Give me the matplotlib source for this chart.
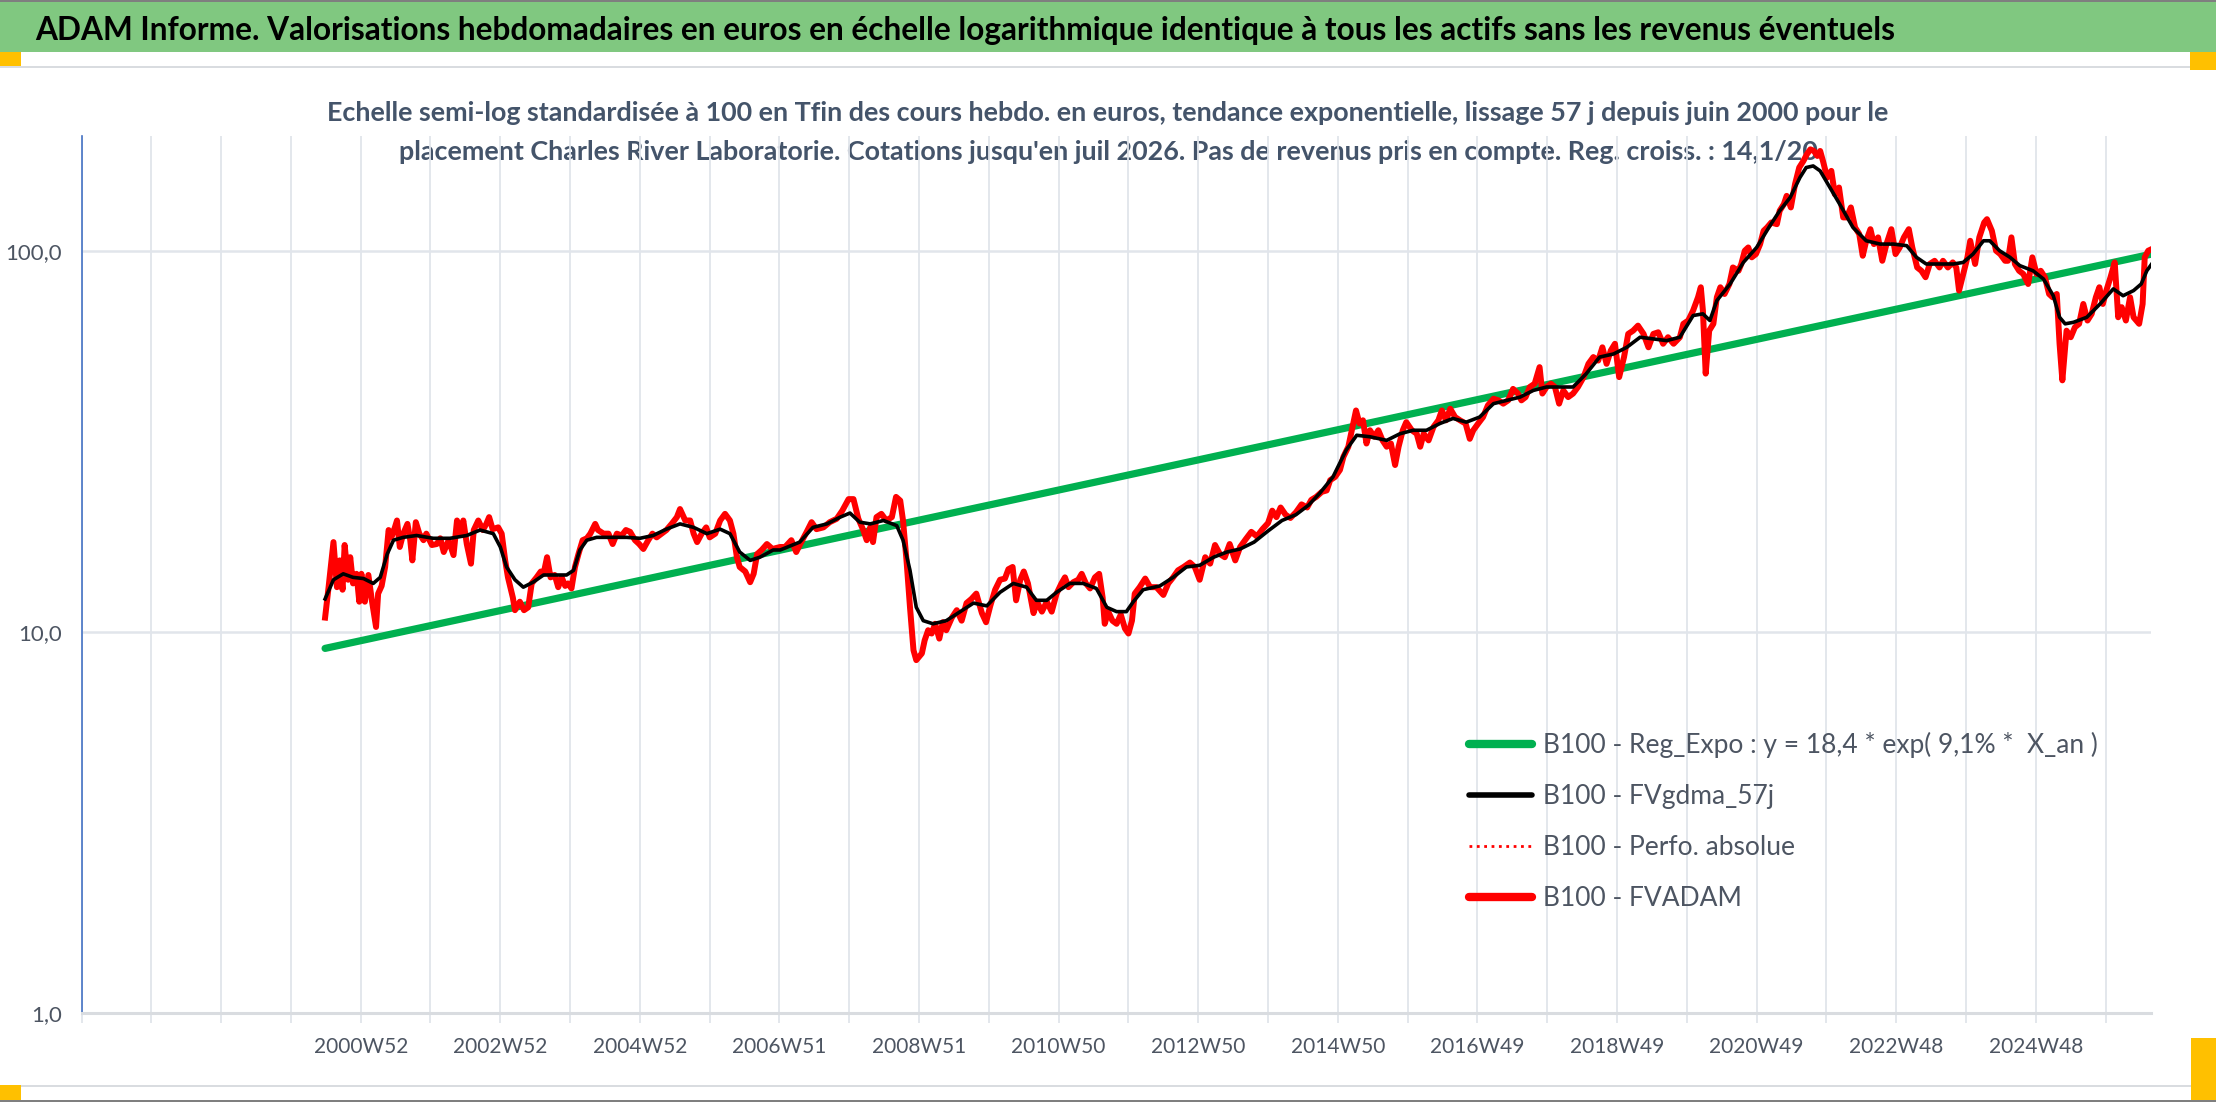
import matplotlib.pyplot as plt
from matplotlib.patches import Rectangle
from matplotlib.lines import Line2D

# --- données ---
# axe x en années décimales, les étiquettes du graphique sont des semaines ISO
tick_years = [2001, 2003, 2005, 2007, 2009, 2011, 2013, 2015, 2017, 2019, 2021, 2023, 2025]
tick_labels = ["2000W52", "2002W52", "2004W52", "2006W51", "2008W51", "2010W50", "2012W50",
               "2014W50", "2016W49", "2018W49", "2020W49", "2022W48", "2024W48"]

reg_years = [2000.49, 2026.66]
reg_values = [9.05, 98.0]

fvadam_years = [
    2000.49, 2000.54, 2000.61, 2000.66, 2000.70, 2000.74, 2000.77, 2000.82, 2000.85, 2000.89,
    2000.94, 2000.98, 2001.01, 2001.06, 2001.11, 2001.16, 2001.22, 2001.25, 2001.30, 2001.35,
    2001.40, 2001.44, 2001.49, 2001.52, 2001.56, 2001.61, 2001.67, 2001.71, 2001.74, 2001.79,
    2001.84, 2001.90, 2001.94, 2002.02, 2002.09, 2002.14, 2002.19, 2002.26, 2002.33, 2002.38,
    2002.43, 2002.47, 2002.52, 2002.58, 2002.62, 2002.685, 2002.75, 2002.80, 2002.84, 2002.89,
    2002.97, 2003.02, 2003.07, 2003.11, 2003.18, 2003.21, 2003.28, 2003.34, 2003.40, 2003.45,
    2003.52, 2003.58, 2003.62, 2003.67, 2003.72, 2003.78, 2003.83, 2003.88, 2003.93, 2003.97,
    2004.02, 2004.07, 2004.12, 2004.18, 2004.24, 2004.29, 2004.36, 2004.40, 2004.48, 2004.55,
    2004.61, 2004.67, 2004.74, 2004.80, 2004.86, 2004.93, 2004.99, 2005.05, 2005.12, 2005.18,
    2005.24, 2005.31, 2005.38, 2005.455, 2005.53, 2005.575, 2005.65, 2005.72, 2005.77, 2005.82,
    2005.885, 2005.95, 2006.00, 2006.08, 2006.15, 2006.22, 2006.29, 2006.34, 2006.39, 2006.43,
    2006.51, 2006.58, 2006.63, 2006.68, 2006.745, 2006.82, 2006.90, 2007.01,
    2007.08, 2007.17, 2007.24, 2007.29, 2007.39, 2007.46, 2007.53, 2007.63, 2007.72, 2007.82,
    2007.90, 2007.99, 2008.06, 2008.13, 2008.20, 2008.25, 2008.30, 2008.34, 2008.39, 2008.46,
    2008.53, 2008.61, 2008.67, 2008.73, 2008.77, 2008.82, 2008.87, 2008.92, 2008.96, 2009.04,
    2009.08, 2009.13, 2009.18, 2009.23, 2009.29, 2009.34, 2009.39, 2009.47, 2009.54, 2009.61,
    2009.68, 2009.75, 2009.82, 2009.90, 2009.96, 2010.02, 2010.09, 2010.16, 2010.23, 2010.28,
    2010.34, 2010.39, 2010.45, 2010.50, 2010.56, 2010.64, 2010.69, 2010.76, 2010.83, 2010.90,
    2010.97, 2011.04, 2011.09, 2011.14, 2011.21, 2011.28, 2011.33, 2011.39, 2011.45, 2011.52,
    2011.58, 2011.63, 2011.66, 2011.71, 2011.77, 2011.83, 2011.89, 2011.95, 2012.00, 2012.05,
    2012.09, 2012.16, 2012.24, 2012.31, 2012.40, 2012.50, 2012.57, 2012.64, 2012.71, 2012.79,
    2012.88, 2012.95, 2013.02, 2013.10, 2013.17, 2013.24, 2013.31, 2013.38, 2013.45, 2013.53,
    2013.60, 2013.68, 2013.76, 2013.84, 2013.92, 2014.00, 2014.06, 2014.12, 2014.18, 2014.25,
    2014.32, 2014.40, 2014.48, 2014.56, 2014.62,
    2014.69, 2014.77, 2014.84, 2014.89, 2014.96, 2015.03, 2015.08, 2015.15, 2015.21, 2015.26,
    2015.31, 2015.36, 2015.41, 2015.46, 2015.52, 2015.58, 2015.64, 2015.70, 2015.76, 2015.82,
    2015.87, 2015.93, 2015.98, 2016.06, 2016.13, 2016.18, 2016.23, 2016.30, 2016.37, 2016.44,
    2016.49, 2016.55, 2016.61, 2016.68, 2016.75, 2016.83, 2016.89, 2016.94, 2017.01, 2017.08,
    2017.15, 2017.23, 2017.30, 2017.37, 2017.44, 2017.51, 2017.58, 2017.63, 2017.69, 2017.75,
    2017.82, 2017.89, 2017.93, 2017.99, 2018.05, 2018.11, 2018.17, 2018.23, 2018.30, 2018.37,
    2018.44, 2018.52, 2018.59, 2018.66, 2018.73, 2018.79, 2018.85, 2018.91, 2018.97, 2019.03,
    2019.10, 2019.16, 2019.23, 2019.30, 2019.38, 2019.45, 2019.52, 2019.59, 2019.66, 2019.73,
    2019.81,
    2019.90, 2019.95, 2020.02, 2020.09, 2020.16, 2020.20, 2020.23, 2020.27, 2020.32, 2020.38,
    2020.43, 2020.48, 2020.54, 2020.61, 2020.66, 2020.74, 2020.78, 2020.83, 2020.88, 2020.93,
    2020.99, 2021.05, 2021.10, 2021.15, 2021.21, 2021.29, 2021.33, 2021.39, 2021.43, 2021.49,
    2021.55, 2021.61, 2021.67, 2021.72, 2021.77, 2021.82, 2021.87, 2021.91, 2021.95, 2022.01,
    2022.07, 2022.12, 2022.18, 2022.24, 2022.29, 2022.35, 2022.41, 2022.47, 2022.52, 2022.57,
    2022.63, 2022.68, 2022.74, 2022.80, 2022.86, 2022.93, 2022.99, 2023.05, 2023.11, 2023.18,
    2023.23, 2023.30, 2023.36, 2023.42, 2023.48, 2023.55, 2023.62, 2023.67, 2023.74, 2023.81,
    2023.86, 2023.90, 2023.96, 2024.02, 2024.06, 2024.13, 2024.19, 2024.26, 2024.30, 2024.37,
    2024.43, 2024.49, 2024.56, 2024.60, 2024.65, 2024.70, 2024.76, 2024.82, 2024.89, 2024.95,
    2025.01, 2025.07, 2025.13, 2025.19, 2025.24, 2025.30, 2025.34, 2025.38, 2025.44, 2025.50,
    2025.56, 2025.62, 2025.68, 2025.74, 2025.80, 2025.86, 2025.91, 2025.96, 2026.01, 2026.07,
    2026.13, 2026.18, 2026.23, 2026.29, 2026.35, 2026.40, 2026.48, 2026.53, 2026.56, 2026.61,
    2026.66,
]
fvadam_values = [
    10.9, 13.1, 17.2, 13.1, 15.4, 12.9, 16.9, 13.7, 15.7, 13.4,
    14.2, 12.0, 14.2, 12.0, 14.1, 12.1, 10.3, 12.6, 13.2, 14.8,
    18.5, 17.7, 18.8, 19.6, 16.7, 18.1, 19.2, 17.4, 15.4, 19.4,
    18.1, 17.4, 18.1, 16.9, 17.0, 17.6, 16.2, 17.4, 15.9, 19.6,
    18.1, 19.6, 17.0, 15.1, 18.5, 19.6, 18.5, 19.2, 20.0, 18.6,
    18.8, 18.1, 15.4, 13.9, 12.3, 11.4, 12.0, 11.4, 11.6, 13.4,
    13.9, 14.4, 14.2, 15.7, 13.9, 14.1, 13.1, 13.9, 13.2, 13.4,
    13.0, 14.8, 16.0, 17.4, 17.6, 18.1, 19.2, 18.5, 18.1, 18.1,
    17.0, 18.1, 17.9, 18.5, 18.3, 17.4, 17.0, 16.5, 17.4, 18.1,
    17.7, 18.1, 18.5, 19.2, 20.0, 21.0, 19.6, 19.6, 18.1, 17.2,
    18.1, 18.8, 17.7, 18.1, 19.6, 20.4, 19.6, 18.1, 15.7, 14.8,
    14.4, 13.5, 14.2, 16.0, 16.4, 17.0, 16.5, 16.7,
    16.7, 17.4, 16.2, 16.9, 18.3, 19.4, 18.6, 18.8, 19.4, 19.8,
    20.8, 22.3, 22.3, 19.8, 18.5, 17.4, 18.8, 17.2, 20.0, 20.4,
    19.6, 20.0, 22.6, 22.1, 19.6, 15.4, 11.6, 8.95, 8.43, 8.78,
    9.5, 10.1, 9.9, 10.5, 9.6, 10.6, 10.1, 10.9, 11.4, 10.7,
    11.9, 12.2, 12.6, 11.2, 10.6, 11.7, 12.9, 13.7, 13.8, 14.6,
    14.8, 12.1, 13.7, 14.4, 13.4, 11.2, 12.0, 11.3, 12.0, 11.3,
    12.6, 13.4, 13.9, 13.1, 13.5, 13.7, 14.2, 13.4, 13.0, 13.9,
    14.2, 12.3, 10.5, 11.3, 10.7, 10.5, 11.1, 10.2, 9.9, 10.7,
    12.6, 13.1, 13.8, 13.1, 13.1, 12.5, 13.4, 13.9, 14.5, 14.8,
    15.2, 14.8, 13.7, 15.7, 15.1, 16.9, 16.0, 15.7, 17.0, 15.4,
    16.7, 17.5, 18.3, 17.8, 18.6, 19.3, 20.8, 20.0, 21.2, 20.3,
    19.9, 20.6, 21.6, 21.2, 22.2,
    22.6, 23.3, 23.5, 25.0, 25.5, 26.6, 28.8, 30.6, 34.5, 38.1,
    35.2, 35.9, 31.2, 33.8, 32.5, 33.8, 31.8, 30.6, 31.2, 27.4,
    30.6, 33.8, 35.5, 33.8, 33.1, 30.6, 33.1, 31.8, 34.5, 35.9,
    38.1, 35.9, 38.5, 36.6, 35.9, 35.2, 32.1, 33.8, 35.2, 36.6,
    39.3, 40.9, 40.5, 39.7, 40.5, 43.4, 42.2, 40.5, 41.3, 43.9,
    44.8, 49.5, 42.2, 43.9, 44.8, 43.9, 39.7, 43.0, 41.3, 42.2,
    43.9, 46.6, 50.5, 52.6, 51.5, 55.8, 50.5, 54.7, 57.0, 46.6,
    52.6, 60.5, 61.7, 63.6, 60.5, 55.8, 60.5, 61.1, 57.0, 59.3,
    57.0,
    59.3, 64.3, 65.6, 69.7, 75.5, 80.2, 69.7, 47.6, 61.7, 64.3,
    75.5, 80.2, 77.0, 81.8, 90.4, 88.6, 92.3, 100.0, 102.0, 96.1,
    98.0, 104.1, 112.8, 115.1, 118.6, 117.4, 127.3, 132.5, 139.3, 129.9,
    149.5, 165.3, 172.0, 179.1, 184.5, 182.7, 177.3, 182.7, 172.0, 155.6,
    162.0, 140.7, 146.5, 122.3, 122.3, 129.9, 115.1, 110.6, 97.0, 106.2,
    113.9, 104.1, 108.4, 94.1, 104.1, 113.9, 98.0, 102.0, 108.4, 113.9,
    102.0, 90.4, 88.6, 85.2, 92.3, 94.1, 90.4, 94.1, 90.4, 93.2,
    90.4, 78.6, 86.9, 96.1, 106.2, 92.3, 108.4, 118.6, 121.0, 112.8,
    100.0, 98.0, 94.1, 94.1, 108.4, 92.3, 88.6, 86.9, 81.8, 96.1,
    86.9, 88.6, 85.2, 77.0, 75.5, 77.0, 57.0, 45.7, 61.7, 59.3,
    63.0, 64.3, 72.5, 65.6, 68.3, 75.5, 80.2, 72.5, 78.6, 85.2,
    93.2, 66.9, 71.1, 65.6, 75.5, 66.9, 64.3, 72.5, 96.1, 100.0,
    101.0,
]

fvgdma_years = [
    2000.49, 2000.61, 2000.75, 2000.89, 2001.04, 2001.18, 2001.28, 2001.38, 2001.47, 2001.61,
    2001.80, 2002.04, 2002.28, 2002.52, 2002.71, 2002.90, 2003.00, 2003.09, 2003.21, 2003.33,
    2003.47, 2003.62, 2003.76, 2003.95, 2004.05, 2004.14, 2004.24, 2004.38, 2004.57, 2004.81,
    2005.00, 2005.19, 2005.38, 2005.575, 2005.77, 2005.96, 2006.15, 2006.29, 2006.43, 2006.58,
    2006.72, 2006.91,
    2007.01, 2007.29, 2007.48, 2007.68, 2007.87, 2008.01, 2008.15, 2008.30, 2008.49, 2008.68,
    2008.77, 2008.87, 2008.96, 2009.06, 2009.20, 2009.39, 2009.59, 2009.78, 2009.97, 2010.16,
    2010.35, 2010.54, 2010.68, 2010.83, 2010.97, 2011.16, 2011.35, 2011.54, 2011.69, 2011.83,
    2011.97, 2012.07, 2012.21, 2012.45, 2012.64, 2012.83, 2013.02, 2013.22, 2013.41, 2013.60,
    2013.80, 2014.00, 2014.20, 2014.40, 2014.58,
    2014.74, 2014.93, 2015.12, 2015.27, 2015.46, 2015.70, 2015.89, 2016.08, 2016.27, 2016.46,
    2016.65, 2016.84, 2017.03, 2017.23, 2017.42, 2017.61, 2017.80, 2017.99, 2018.18, 2018.37,
    2018.56, 2018.75, 2018.95, 2019.14, 2019.33, 2019.52, 2019.71, 2019.90,
    2020.09, 2020.23, 2020.33, 2020.43, 2020.62, 2020.81, 2021.00, 2021.19, 2021.33, 2021.48,
    2021.62, 2021.71, 2021.81, 2021.91, 2022.05, 2022.19, 2022.38, 2022.57, 2022.77, 2022.96,
    2023.15, 2023.29, 2023.43, 2023.63, 2023.82, 2023.96, 2024.10, 2024.25, 2024.34, 2024.48,
    2024.63, 2024.77, 2024.96, 2025.11, 2025.25, 2025.34, 2025.42, 2025.54, 2025.73, 2025.92,
    2026.11, 2026.25, 2026.40, 2026.51, 2026.59, 2026.66,
]
fvgdma_values = [
    12.2, 13.7, 14.2, 13.9, 13.8, 13.4, 13.9, 16.0, 17.4, 17.7,
    17.9, 17.6, 17.6, 17.9, 18.5, 18.1, 16.7, 14.8, 13.7, 13.1,
    13.5, 14.1, 14.1, 14.1, 14.5, 16.4, 17.4, 17.7, 17.7, 17.7,
    17.6, 17.9, 18.6, 19.2, 18.8, 18.1, 18.6, 18.1, 16.2, 15.4,
    15.7, 16.4,
    16.4, 17.2, 18.8, 19.2, 20.0, 20.5, 19.4, 19.2, 19.6, 19.0,
    17.4, 14.5, 11.6, 10.7, 10.5, 10.7, 11.3, 11.9, 11.7, 12.7,
    13.4, 13.1, 12.1, 12.1, 12.7, 13.4, 13.4, 13.0, 11.6, 11.3,
    11.3, 12.0, 12.9, 13.2, 13.9, 14.8, 14.95, 15.7, 16.2, 16.5,
    17.2, 18.4, 19.6, 20.3, 21.5,
    23.1, 25.5, 30.0, 32.8, 32.5, 31.8, 33.1, 33.8, 33.8, 35.2,
    36.3, 35.5, 36.6, 39.7, 40.5, 41.3, 43.0, 43.9, 43.9, 43.9,
    47.6, 52.6, 53.6, 55.8, 59.3, 58.7, 58.1, 59.3,
    67.6, 68.3, 65.6, 74.0, 81.8, 93.2, 102.0, 116.3, 127.3, 137.9,
    155.6, 165.3, 166.9, 162.0, 146.5, 132.5, 115.1, 106.2, 104.1, 104.1,
    103.1, 96.1, 92.3, 92.3, 92.3, 93.2, 98.0, 106.2, 106.2, 100.0,
    96.1, 91.4, 88.6, 84.3, 76.2, 66.9, 64.3, 64.9, 66.9, 72.5,
    79.4, 76.2, 78.6, 81.8, 88.6, 92.3,
]

titre = ("ADAM Informe. Valorisations hebdomadaires en euros en échelle logarithmique "
         "identique à tous les actifs sans les revenus éventuels")
sous_titre_1 = ("Echelle semi-log standardisée à 100 en Tfin des cours hebdo. en euros, tendance "
                "exponentielle, lissage 57 j depuis juin 2000 pour le")
sous_titre_2 = ("placement Charles River Laboratorie. Cotations jusqu'en juil 2026. Pas de revenus "
                "pris en compte. Reg. croiss. : 14,1/20")
noms = ["B100 - Reg_Expo : y = 18,4 * exp( 9,1% *  X_an )", "B100 - FVgdma_57j",
        "B100 - Perfo. absolue", "B100 - FVADAM"]

plt.rcParams['font.family'] = ['Lato', 'DejaVu Sans']

W, H = 2216, 1102
fig = plt.figure(figsize=(W / 100, H / 100), dpi=100)

# bandeau vert + cadre façon capture Excel
fig.patches.append(Rectangle((0, 1 - 52 / H), 1, 52 / H, transform=fig.transFigure,
                             facecolor='#80C880', edgecolor='none', zorder=0))
fig.patches.append(Rectangle((0, 1 - 68 / H), 1, 2.5 / H, transform=fig.transFigure,
                             facecolor='#D9DCE0', edgecolor='none', zorder=0))
fig.patches.append(Rectangle((0, 1 - 1087 / H), 1, 2.5 / H, transform=fig.transFigure,
                             facecolor='#D9DCE0', edgecolor='none', zorder=0))
fig.patches.append(Rectangle((0, 1 - 2 / H), 1, 2 / H, transform=fig.transFigure,
                             facecolor='#7F7F7F', edgecolor='none', zorder=0))
fig.patches.append(Rectangle((0, 0), 1, 2 / H, transform=fig.transFigure,
                             facecolor='#7F7F7F', edgecolor='none', zorder=0))
for (x0, y0, w, h) in [(0, 52, 21, 14), (2190, 52, 26, 18), (0, 1085, 21, 15), (2191, 1038, 25, 62)]:
    fig.patches.append(Rectangle((x0 / W, 1 - (y0 + h) / H), w / W, h / H, transform=fig.transFigure,
                                 facecolor='#FFC000', edgecolor='none', zorder=1))

fig.text(35 / W, 1 - 40 / H, titre, fontsize=22.8, fontweight='bold', color='black', va='baseline')
# sous-titre sous les courbes (le pic rouge passe dessus comme dans l'original)
fig.text(0.5, 1 - 113 / H, sous_titre_1, fontsize=19.4, fontweight='bold', color='#44546A',
         ha='center', va='center', zorder=-1)
fig.text(0.5, 1 - 152 / H, sous_titre_2, fontsize=19.4, fontweight='bold', color='#44546A',
         ha='center', va='center', zorder=-1)

ax = fig.add_axes([81.5 / W, 1 - 1013 / H, (2151 - 81.5) / W, (1013 - 136) / H])
ax.set_facecolor('none')
ax.set_yscale('log')
ax.set_ylim(1, 200)
ax.set_xlim(1997.0, 2026.65)

ax.plot(reg_years, reg_values, color='#00B050', lw=5.2, solid_capstyle='round', zorder=2)
ax.plot(fvadam_years, fvadam_values, color='red', lw=1.5, ls=':', zorder=3)
ax.plot(fvadam_years, fvadam_values, color='#FF0000', lw=4.3, solid_joinstyle='round', zorder=4)
ax.plot(fvgdma_years, fvgdma_values, color='black', lw=2.6, zorder=5)

# grille
grid_col = '#E1E5EB'
ax.set_xticks(range(1997, 2027))
ax.set_xticklabels([tick_labels[tick_years.index(y)] if y in tick_years else '' for y in range(1997, 2027)])
ax.grid(axis='x', color=grid_col, lw=1.3, zorder=0)
ax.grid(axis='y', which='major', color=grid_col, lw=1.8, zorder=0)
ax.set_yticks([1, 10, 100])
ax.set_yticklabels(['1,0', '10,0', '100,0'])
ax.minorticks_off()
ax.tick_params(axis='x', length=7, width=1.3, color=grid_col, pad=10, labelsize=15, labelcolor='#4D5562')
ax.tick_params(axis='y', length=0, pad=14, labelsize=16, labelcolor='#4D5562')
for s in ['top', 'right']:
    ax.spines[s].set_visible(False)
ax.spines['left'].set_color('#4472C4')
ax.spines['left'].set_linewidth(1.2)
ax.spines['bottom'].set_color('#D9DCE0')
ax.spines['bottom'].set_linewidth(2.2)

poignees = [Line2D([], [], color='#00B050', lw=6, solid_capstyle='round'),
            Line2D([], [], color='black', lw=4, solid_capstyle='round'),
            Line2D([], [], color='red', lw=2, ls=':'),
            Line2D([], [], color='#FF0000', lw=6, solid_capstyle='round')]
leg = ax.legend(poignees, noms, loc='upper left', bbox_to_anchor=(0.6705, 0.32), frameon=False,
                fontsize=19, handlelength=2.4, handletextpad=0.4, labelspacing=0.98, borderpad=0,
                borderaxespad=0)
for t in leg.get_texts():
    t.set_color('#4D5562')

fig.savefig('out.png', dpi=100, facecolor='white')
